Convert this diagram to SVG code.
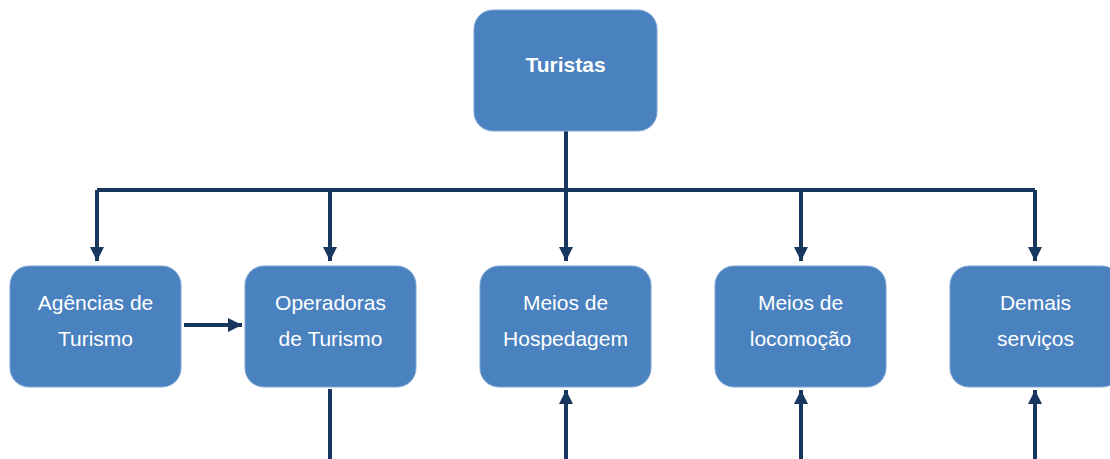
<svg xmlns="http://www.w3.org/2000/svg" width="1110" height="459" viewBox="0 0 1110 459">
<style>
.box{fill:#4a81bf;stroke:#7fa6d4;stroke-width:1}
.t{font-family:"Liberation Sans",Arial,sans-serif;font-size:21px;fill:#ffffff;text-anchor:middle}
.b{font-weight:bold}
.c{fill:none;stroke:#17375e;stroke-width:4}
</style>
<defs>
<marker id="ah" markerUnits="userSpaceOnUse" markerWidth="14" markerHeight="14" viewBox="0 0 14 14" refX="14" refY="7" orient="auto">
<path d="M0,0 L14,7 L0,14 Z" fill="#17375e"/>
</marker>
</defs>
<g id="connectors">
<path class="c" d="M566,131 V190"/>
<path class="c" d="M97,190 H1035"/>
<path class="c" d="M97,190 V261" marker-end="url(#ah)"/>
<path class="c" d="M330,190 V261" marker-end="url(#ah)"/>
<path class="c" d="M566,190 V261" marker-end="url(#ah)"/>
<path class="c" d="M801,190 V261" marker-end="url(#ah)"/>
<path class="c" d="M1035,190 V261" marker-end="url(#ah)"/>
<path class="c" d="M184,325 H242" marker-end="url(#ah)"/>
<path class="c" d="M330,389 V459"/>
<path class="c" d="M566,459 V390" marker-end="url(#ah)"/>
<path class="c" d="M801,459 V390" marker-end="url(#ah)"/>
<path class="c" d="M1035,459 V390" marker-end="url(#ah)"/>
</g>
<g id="turistas">
<rect class="box" x="474" y="10" width="183" height="121" rx="19"/>
<text class="t b" x="565.5" y="72">Turistas</text>
</g>
<g id="agencias">
<rect class="box" x="10" y="266" width="171" height="121" rx="19"/>
<text class="t" x="95.5" y="310">Agências de</text>
<text class="t" x="95.5" y="346">Turismo</text>
</g>
<g id="operadoras">
<rect class="box" x="245" y="266" width="171" height="121" rx="19"/>
<text class="t" x="330.5" y="310">Operadoras</text>
<text class="t" x="330.5" y="346">de Turismo</text>
</g>
<g id="hospedagem">
<rect class="box" x="480" y="266" width="171" height="121" rx="19"/>
<text class="t" x="565.5" y="310">Meios de</text>
<text class="t" x="565.5" y="346">Hospedagem</text>
</g>
<g id="locomocao">
<rect class="box" x="715" y="266" width="171" height="121" rx="19"/>
<text class="t" x="800.5" y="310">Meios de</text>
<text class="t" x="800.5" y="346">locomoção</text>
</g>
<g id="demais">
<rect class="box" x="950" y="266" width="171" height="121" rx="19"/>
<text class="t" x="1035.5" y="310">Demais</text>
<text class="t" x="1035.5" y="346">serviços</text>
</g>
</svg>
